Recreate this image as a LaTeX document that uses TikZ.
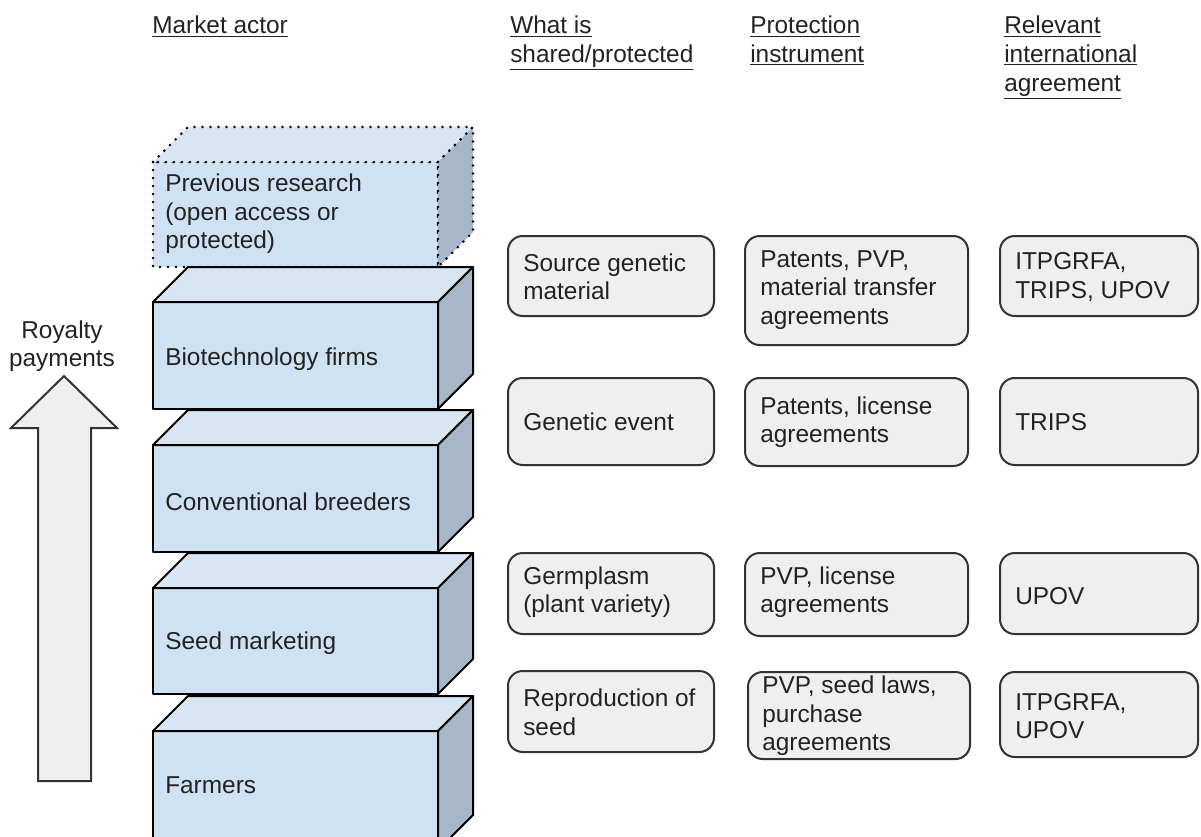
\documentclass[tikz,border=0pt]{standalone}
\usepackage{fontspec}
\setmainfont{Liberation Sans}
\usepackage{xcolor}
\definecolor{slabfront}{RGB}{207,226,243}
\definecolor{slabtop}{RGB}{216,229,243}
\definecolor{slabside}{RGB}{168,183,200}
\definecolor{boxfill}{RGB}{239,239,239}
\definecolor{boxline}{RGB}{51,51,51}
\definecolor{inktext}{RGB}{34,34,34}

% one slab of the stack: #1 extra line options, #2 front top, #3 front bottom
\newcommand{\slab}[3][]{%
  \draw [slabline, #1, fill=slabfront] (153,#2) rectangle (438,#3);
  \draw [slabline, #1, fill=slabtop] (153,#2) -- (188,{#2-35}) -- (473,{#2-35}) -- (438,#2) -- cycle;
  \draw [slabline, #1, fill=slabside] (438,#2) -- (473,{#2-35}) -- (473,{#3-35}) -- (438,#3) -- cycle;
}

\begin{document}
\begin{tikzpicture}[x=0.75pt,y=0.75pt,yscale=-1,xscale=1,
  every node/.style={inner sep=0pt, text=inktext, font=\fontsize{18.3}{21.4}\selectfont},
  slabline/.style={draw=black, line width=1.5pt, line join=round},
  dottedline/.style={line width=2.2pt, dash pattern=on 0pt off 6pt, line cap=round},
  infobox/.style={draw=boxline, fill=boxfill, line width=1.5pt, rounded corners=11pt},
  boxtext/.style={anchor=west, align=left},
  headtext/.style={anchor=north west, align=left}]
        \clip (0,0) rectangle (1201,836);

        % Text Node
        \node [headtext] (hactor) at (152,16) {\underline{Market actor}};
        % Text Node
        \node [headtext] (hshared) at (510,16) {\underline{What is}\\\underline{shared/protected}};
        % Text Node
        \node [headtext] (hinstr) at (750,16) {\underline{Protection}\\\underline{instrument}};
        % Text Node
        \node [headtext] (hagree) at (1004,16) {\underline{Relevant}\\\underline{international}\\\underline{agreement}};

        %Shape: Up Arrow
        \draw [line width=1.5pt, line join=miter, draw=boxline, fill=boxfill] (38,781) -- (38,428) -- (11,428) -- (64,376) -- (117,428) -- (91,428) -- (91,781) -- cycle ;
        % Text Node
        \node [align=center] (royalty) at (62,346) {Royalty\\payments};

        %Shape: Stack of slabs
        \slab[dottedline]{162}{267}
        \slab{302}{409}
        \slab{445}{552}
        \slab{588}{694}
        \slab{731}{850}

        % Text Node
        \node [boxtext] (prev) at (165,214) {Previous research\\(open access or\\protected)};
        \node [boxtext] (biotech) at (165,359) {Biotechnology firms};
        \node [boxtext] (breeders) at (165,502) {Conventional breeders};
        \node [boxtext] (marketing) at (165,643) {Seed marketing};
        \node [boxtext] (farmers) at (165,785) {Farmers};

        %Rounded Rect: row 1
        \draw [infobox] (508,236) rectangle (714,316);
        \node [boxtext] (source) at (523,277) {Source genetic\\material};
        \draw [infobox] (745,236) rectangle (968,345);
        \node [boxtext] (patpvp) at (760,290) {Patents, PVP,\\material transfer\\agreements};
        \draw [infobox] (1000,236) rectangle (1198,316);
        \node [boxtext] (itptrips) at (1015,277) {ITPGRFA,\\TRIPS, UPOV};

        %Rounded Rect: row 2
        \draw [infobox] (508,378) rectangle (714,465);
        \node [boxtext] (event) at (523,422) {Genetic event};
        \draw [infobox] (745,378) rectangle (968,466);
        \node [boxtext] (patlic) at (760,422) {Patents, license\\agreements};
        \draw [infobox] (1000,378) rectangle (1198,465);
        \node [boxtext] (trips) at (1015,422) {TRIPS};

        %Rounded Rect: row 3
        \draw [infobox] (508,553) rectangle (714,634);
        \node [boxtext] (germ) at (523,592) {Germplasm\\(plant variety)};
        \draw [infobox] (745,553) rectangle (968,636);
        \node [boxtext] (pvplic) at (760,592) {PVP, license\\agreements};
        \draw [infobox] (1000,553) rectangle (1198,634);
        \node [boxtext] (upov) at (1015,596) {UPOV};

        %Rounded Rect: row 4
        \draw [infobox] (508,671) rectangle (714,752);
        \node [boxtext] (repro) at (523,712) {Reproduction of\\seed};
        \draw [infobox] (748,672) rectangle (970,759);
        \node [boxtext] (pvpseed) at (762,716) {PVP, seed laws,\\purchase\\agreements};
        \draw [infobox] (1000,672) rectangle (1198,757);
        \node [boxtext] (itpupov) at (1015,716) {ITPGRFA,\\UPOV};

\end{tikzpicture}
\end{document}
